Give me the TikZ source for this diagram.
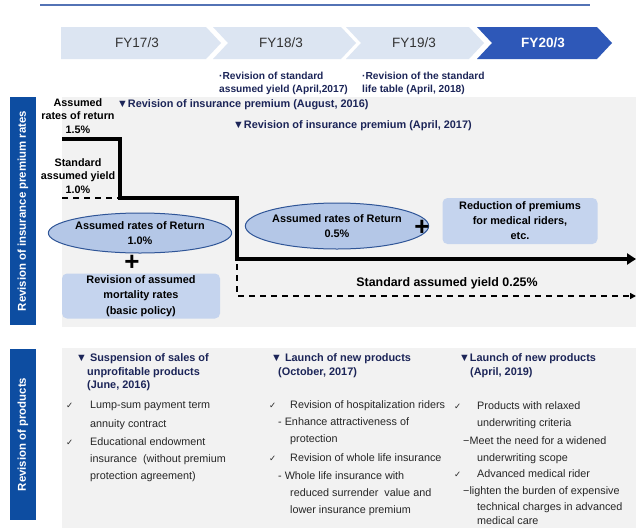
\documentclass[tikz,border=0pt]{standalone}
\usepackage{fontspec}
\setmainfont{Liberation Sans}
\newfontfamily\djv{DejaVu Sans}
\usetikzlibrary{shapes.geometric,arrows.meta}
\definecolor{chevlight}{HTML}{DCE5F2}
\definecolor{chevdark}{HTML}{2E58B8}
\definecolor{navy}{HTML}{1C2558}
\definecolor{barblue}{HTML}{0D4DA1}
\definecolor{panelgray}{HTML}{F2F2F2}
\definecolor{ellfill}{HTML}{B4C7E7}
\definecolor{ellborder}{HTML}{2F5597}
\definecolor{rectfill}{HTML}{C5D4EE}
\definecolor{titleblue}{HTML}{5373B5}
\definecolor{txtgray}{HTML}{262626}
\definecolor{chevtxt}{HTML}{333333}
\tikzset{
  chevtext/.style={font=\fontsize{13.5}{15}\selectfont, text=chevtxt, inner sep=0},
  note/.style={font=\bfseries\fontsize{10.2}{13}\selectfont, text=navy, align=left, anchor=west, inner sep=0},
  hdr/.style={font=\bfseries\fontsize{10.9}{12}\selectfont, text=navy, anchor=west, inner sep=0, text height=8pt, text depth=2.5pt},
  lbl/.style={font=\bfseries\fontsize{10.8}{13.5}\selectfont, text=black, align=center, inner sep=0},
  bodytxt/.style={font=\fontsize{10.8}{12}\selectfont, text=txtgray, anchor=west, inner sep=0, text height=8pt, text depth=2.5pt},
  tick/.style={font=\djv\fontsize{8.5}{9}\selectfont, text=txtgray, anchor=west, inner sep=0},
  ellbox/.style={ellipse, draw=ellborder, line width=1pt, fill=ellfill, inner sep=0, align=center, font=\bfseries\fontsize{10.9}{14.5}\selectfont},
  rectbox/.style={rectangle, rounded corners=5pt, fill=rectfill, inner sep=0, align=center},
  plussign/.style={font=\bfseries\fontsize{26}{26}\selectfont, inner sep=0},
  sidebar/.style={rectangle, fill=barblue, inner sep=0},
  bartext/.style={font=\bfseries\fontsize{11.4}{12}\selectfont, text=white, rotate=90, inner sep=0},
  rateline/.style={line width=3.8pt, -{Triangle[length=9pt,width=11pt]}},
  yieldline/.style={line width=1.6pt, dash pattern=on 6pt off 5pt, -{Triangle[length=6pt,width=6pt]}}
}
\begin{document}
\begin{tikzpicture}[x=1pt,y=-1pt]
\useasboundingbox[fill=white] (0,0) rectangle (636,528);
% title rule
\draw[line width=2pt, titleblue] (40,5) -- (590,5);
% chevrons
\fill[chevlight] (61,27) -- (206,27) -- (221,43) -- (206,59) -- (61,59) -- cycle;
\fill[chevlight] (213,27) -- (341,27) -- (356,43) -- (341,59) -- (213,59) -- (228,43) -- cycle;
\fill[chevlight] (346,27) -- (469,27) -- (484,43) -- (469,59) -- (346,59) -- (361,43) -- cycle;
\fill[chevdark] (477,27) -- (597,27) -- (612,43) -- (597,59) -- (477,59) -- (492,43) -- cycle;
\node[chevtext] (fy17) at (137,43) {FY17/3};
\node[chevtext] (fy18) at (281,43) {FY18/3};
\node[chevtext] (fy19) at (414,43) {FY19/3};
\node[chevtext, text=white, font=\bfseries\fontsize{13.5}{15}\selectfont] (fy20) at (543,43) {FY20/3};
\node[note] (n1) at (219,83) {·Revision of standard\\assumed yield (April,2017)};
\node[note] (n2) at (362,83) {·Revision of the standard\\life table (April, 2018)};

% ===== section 1 =====
\fill[panelgray] (62,97) rectangle (636,327);
\node[sidebar, minimum width=26pt, minimum height=228pt] (bar1) at (23,211) {};
\node[bartext] (bar1t) at (bar1.center) {Revision of insurance premium rates};

\node[lbl] (ar15) at (78,116) {Assumed\\rates of return\\1.5\%};
\node[lbl] (sy10) at (78,176) {Standard\\assumed yield\\1.0\%};
\node[hdr] (rev16) at (117,105) {▼Revision of insurance premium (August, 2016)};
\node[hdr] (rev17) at (233,126) {▼Revision of insurance premium (April, 2017)};

\coordinate (r0) at (62,139);
\coordinate (r1) at (120,139);
\coordinate (r2) at (120,198);
\coordinate (r3) at (237,198);
\coordinate (r4) at (237,259);
\coordinate (r5) at (636,259);
\draw[rateline] (r0) -- (r1) -- (r2) -- (r3) -- (r4) -- (r5);

\coordinate (y0) at (62,198);
\coordinate (y1) at (118,198);
\draw[line width=1.6pt, dash pattern=on 6pt off 5pt] (y0) -- (y1);
\coordinate (y2) at (237,264);
\coordinate (y3) at (237,296);
\coordinate (y4) at (636,296);
\draw[yieldline] (y2) -- (y3) -- (y4);
\node[font=\bfseries\fontsize{12.4}{14}\selectfont, inner sep=0] (sy025) at (447,283) {Standard assumed yield 0.25\%};

\node[ellbox, minimum width=160pt, minimum height=40pt] (e1) at (140,233) {Assumed rates of Return\\1.0\%};
\node[plussign] (p1) at (132,263) {+};
\node[rectbox, minimum width=158pt, minimum height=45pt, font=\bfseries\fontsize{10.9}{15.8}\selectfont] (m1) at (141,296) {Revision of assumed\\mortality rates\\(basic policy)};

\node[ellbox, minimum width=146pt, minimum height=46pt] (e2) at (337,226) {Assumed rates of Return\\0.5\%};
\node[plussign] (p2) at (422,228) {+};
\node[rectbox, minimum width=155pt, minimum height=46pt, font=\bfseries\fontsize{10.9}{15}\selectfont] (m2) at (520,221) {Reduction of premiums\\for medical riders,\\etc.};

% ===== section 2 =====
\fill[panelgray] (62,348) rectangle (636,528);
\node[sidebar, minimum width=26pt, minimum height=171pt] (bar2) at (23,434.5) {};
\node[bartext] (bar2t) at (bar2.center) {Revision of products};

% column 1
\node[hdr] (c1h1) at (76,359) {▼ Suspension of sales of};
\node[hdr] (c1h2) at (87,372.5) {unprofitable products};
\node[hdr] (c1h3) at (87,386) {(June, 2016)};
\node[tick] (c1t1) at (66,406) {✓};
\node[bodytxt] (c1l1) at (90,406) {Lump-sum payment term};
\node[bodytxt] (c1l2) at (90,425) {annuity contract};
\node[tick] (c1t2) at (66,443) {✓};
\node[bodytxt] (c1l3) at (90,443) {Educational endowment};
\node[bodytxt] (c1l4) at (90,460) {insurance \ (without premium};
\node[bodytxt] (c1l5) at (90,477) {protection agreement)};

% column 2
\node[hdr] (c2h1) at (271,359) {▼ Launch of new products};
\node[hdr] (c2h2) at (278,372.5) {(October, 2017)};
\node[tick] (c2t1) at (269,406) {✓};
\node[bodytxt] (c2l1) at (290,406) {Revision of hospitalization riders};
\node[bodytxt] (c2l2) at (278,423) {- Enhance attractiveness of};
\node[bodytxt] (c2l3) at (290,440) {protection};
\node[tick] (c2t2) at (269,459) {✓};
\node[bodytxt] (c2l4) at (290,459) {Revision of whole life insurance};
\node[bodytxt] (c2l5) at (278,477) {- Whole life insurance with};
\node[bodytxt] (c2l6) at (290,494) {reduced surrender \ value and};
\node[bodytxt] (c2l7) at (290,511) {lower insurance premium};

% column 3
\node[hdr] (c3h1) at (459,359) {▼Launch of new products};
\node[hdr] (c3h2) at (470,372.5) {(April, 2019)};
\node[tick] (c3t1) at (454,407) {✓};
\node[bodytxt] (c3l1) at (477,407) {Products with relaxed};
\node[bodytxt] (c3l2) at (477,424) {underwriting criteria};
\node[bodytxt] (c3l3) at (463,442) {−Meet the need for a widened};
\node[bodytxt] (c3l4) at (477,459) {underwriting scope};
\node[tick] (c3t2) at (454,475) {✓};
\node[bodytxt] (c3l5) at (477,475) {Advanced medical rider};
\node[bodytxt] (c3l6) at (463,492) {−lighten the burden of expensive};
\node[bodytxt] (c3l7) at (477,508) {technical charges in advanced};
\node[bodytxt] (c3l8) at (477,522) {medical care};
\end{tikzpicture}
\end{document}
